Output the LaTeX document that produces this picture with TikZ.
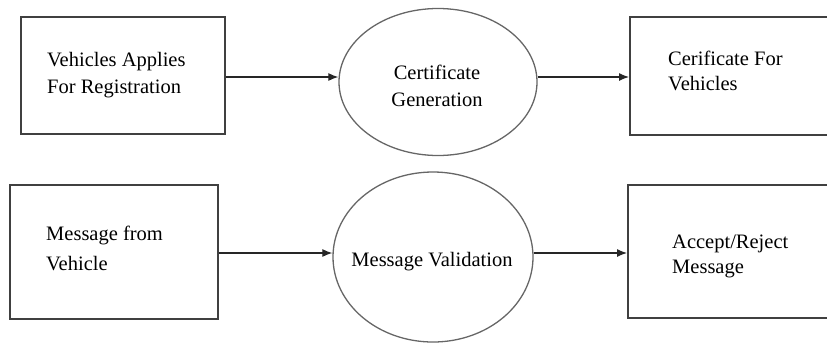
\documentclass[tikz,border=0pt]{standalone}
\usepackage{fontspec}
\setmainfont{Liberation Serif}
\usetikzlibrary{shapes.geometric,arrows.meta}
\begin{document}
\begin{tikzpicture}[x=1pt,y=-1pt,
  txt/.style={font=\fontsize{20.5}{27}\selectfont},
  stepbox/.style={draw=black!75,line width=1.6pt,rectangle,anchor=north west,inner sep=0pt},
  steptext/.style={anchor=west,align=left,inner sep=0pt,txt},
  proc/.style={draw=black!60,line width=1.3pt,ellipse,inner sep=0pt},
  proctext/.style={align=center,inner sep=0pt,txt},
  flow/.style={draw=black!85,line width=1.2pt,-{Latex[length=10pt,width=8pt]}}]
\useasboundingbox (0,0) rectangle (827,349);
\clip (0,0) rectangle (827,349);
% upper row: registration
\node[stepbox,minimum width=204pt,minimum height=117pt] (reg) at (20,16) {};
\node[steptext] (regtxt) at (47,75) {Vehicles Applies\\For Registration};
\node[proc,minimum width=198pt,minimum height=147pt] (gen) at (438,82) {};
\node[proctext] (gentxt) at (437,86) {Certificate\\Generation};
\node[stepbox,minimum width=210pt,minimum height=118pt] (cert) at (629,16) {};
\node[steptext] (certtxt) at (668,71) {Cerificate For\\[-2pt]Vehicles};
% lower row: message checking
\node[stepbox,minimum width=208pt,minimum height=134pt] (msg) at (9,184) {};
\node[steptext] (msgtxt) at (46,248.5) {Message from\\[3pt]Vehicle};
\node[proc,minimum width=200pt,minimum height=170pt] (val) at (433,257) {};
\node[proctext] (valtxt) at (432,262) {Message Validation};
\node[stepbox,minimum width=210pt,minimum height=133pt] (res) at (627,184) {};
\node[steptext] (restxt) at (672,256) {Accept/Reject\\[-2pt]Message};
\draw[flow] (reg.east |- 0,77) -- (gen.west |- 0,77);
\draw[flow] (gen.east |- 0,77) -- (cert.west |- 0,77);
\draw[flow] (msg.east |- 0,253) -- (val.west |- 0,253);
\draw[flow] (val.east |- 0,253) -- (res.west |- 0,253);
\end{tikzpicture}
\end{document}
